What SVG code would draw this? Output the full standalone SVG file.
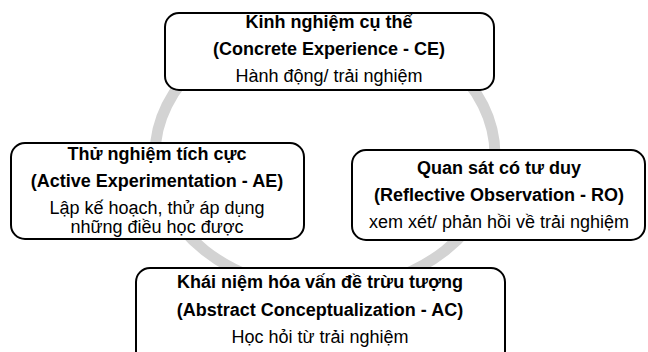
<svg xmlns="http://www.w3.org/2000/svg" width="648" height="352" viewBox="0 0 648 352">
<style>
.box{fill:#ffffff;stroke:#000000;stroke-width:2}
.t{font-family:"Liberation Sans",Arial,sans-serif;font-size:18px;fill:#000;text-anchor:middle}
.b{font-weight:bold}
.ring{fill:none;stroke:#d3d3d3;stroke-width:11}
</style>
<g id="connectors">
<ellipse class="ring" cx="325" cy="155" rx="170" ry="135"/>
</g>
<g id="ce">
<rect class="box" x="165" y="13" width="329" height="77" rx="14"/>
<text class="t b" x="329" y="28">Kinh nghiệm cụ thể</text>
<text class="t b" x="329" y="55">(Concrete Experience - CE)</text>
<text class="t" x="329" y="82">Hành động/ trải nghiệm</text>
</g>
<g id="ae">
<rect class="box" x="11" y="143" width="293" height="96" rx="14"/>
<text class="t b" x="157" y="160">Thử nghiệm tích cực</text>
<text class="t b" x="157" y="187">(Active Experimentation - AE)</text>
<text class="t" x="157" y="214">Lập kế hoạch, thử áp dụng</text>
<text class="t" x="157" y="233">những điều học được</text>
</g>
<g id="ro">
<rect class="box" x="352" y="150" width="293" height="90" rx="14"/>
<text class="t b" x="499" y="174">Quan sát có tư duy</text>
<text class="t b" x="499" y="201">(Reflective Observation - RO)</text>
<text class="t" x="499" y="228">xem xét/ phản hồi về trải nghiệm</text>
</g>
<g id="ac">
<rect class="box" x="136" y="268" width="369" height="100" rx="14"/>
<text class="t b" x="320" y="288">Khái niệm hóa vấn đề trừu tượng</text>
<text class="t b" x="320" y="316">(Abstract Conceptualization - AC)</text>
<text class="t" x="320" y="343">Học hỏi từ trải nghiệm</text>
</g>
</svg>
